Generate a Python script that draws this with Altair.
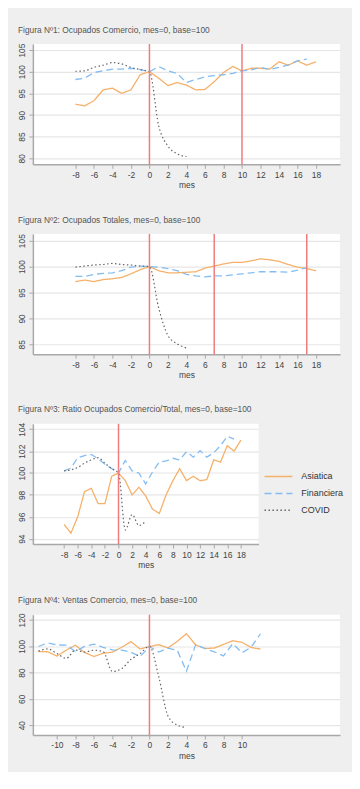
import altair as alt
import pandas as pd

# ---------------- data ----------------
series_names = ["Asiatica", "Financiera", "COVID"]

m_a = [-8, -7, -6, -5, -4, -3, -2, -1, 0, 1, 2, 3, 4, 5, 6, 7, 8, 9, 10, 11, 12, 13, 14, 15, 16, 17, 18]
m_f = [-8, -7, -6, -5, -4, -3, -2, -1, 0, 1, 2, 3, 4, 5, 6, 7, 8, 9, 10, 11, 12, 13, 14, 15, 16, 17]
m_c = [-8, -7, -6, -5, -4, -3, -2, -1, 0, 1, 2, 3, 4]

m4_a = [-12, -11, -10, -9, -8, -7, -6, -5, -4, -3, -2, -1, 0, 1, 2, 3, 4, 5, 6, 7, 8, 9, 10, 11, 12]
m4_f = m4_a
m4_c = [-12, -11, -10, -9, -8, -7, -6, -5, -4, -3, -2, -1, 0, 1, 2, 3, 4]

# Figura 1: Ocupados Comercio
p1_asiatica = [92.5, 92.1, 93.3, 95.8, 96.2, 95.0, 95.8, 99.3, 100.0, 98.5, 96.8, 97.5, 96.9, 95.8,
               95.9, 97.7, 99.8, 101.2, 100.2, 100.8, 100.8, 100.6, 102.3, 101.5, 102.5, 101.5, 102.3]
p1_financiera = [98.2, 98.5, 99.8, 100.2, 100.6, 100.6, 100.8, 100.5, 100.0, 101.2, 100.2, 99.6, 97.5,
                 98.2, 98.8, 99.1, 99.3, 99.6, 100.2, 100.4, 101.0, 100.5, 101.0, 101.6, 102.5, 102.9]
p1_covid = [100.1, 100.2, 101.0, 101.5, 102.1, 101.8, 101.0, 100.5, 100.0, 87.5, 82.8, 81.0, 80.4]
p1_events = [0, 10]

# Figura 2: Ocupados Totales
p2_asiatica = [97.1, 97.4, 97.1, 97.5, 97.65, 97.9, 98.6, 99.4, 100.0, 99.2, 98.8, 98.8, 98.9, 99.0,
               99.7, 100.1, 100.5, 100.8, 100.8, 101.1, 101.5, 101.3, 101.0, 100.4, 99.9, 99.6, 99.2]
p2_financiera = [98.1, 98.1, 98.5, 98.7, 98.8, 99.2, 99.9, 100.1, 100.0, 99.9, 99.6, 99.2, 98.5,
                 98.2, 98.0, 98.2, 98.2, 98.4, 98.6, 98.8, 99.0, 99.0, 99.0, 98.9, 99.3, 99.8]
p2_covid = [99.9, 100.1, 100.3, 100.4, 100.6, 100.4, 100.3, 100.1, 100.0, 92.0, 86.7, 85.1, 84.3]
p2_events = [0, 7, 17]

# Figura 3: Ratio Ocupados Comercio/Total
p3_asiatica = [95.3, 94.5, 96.0, 98.3, 98.6, 97.2, 97.2, 99.7, 100.0, 99.3, 98.0, 98.7, 97.9, 96.7,
               96.3, 98.0, 99.3, 100.4, 99.3, 99.7, 99.3, 99.4, 101.2, 101.0, 102.5, 102.0, 103.0]
p3_financiera = [100.2, 100.45, 101.4, 101.6, 101.7, 101.3, 100.8, 100.4, 100.0, 101.15, 100.2, 100.0,
                 99.0, 100.1, 101.0, 101.1, 101.35, 101.2, 101.95, 101.45, 102.05, 101.45, 101.85,
                 102.5, 103.35, 103.1]
p3_covid = [100.2, 100.3, 100.5, 100.9, 101.2, 101.4, 100.9, 100.4, 100.0, 94.8, 96.2, 95.2, 95.6]
p3_events = [0]

# Figura 4: Ventas Comercio
p4_asiatica = [96.0, 95.8, 92.5, 97.0, 100.8, 95.2, 92.2, 94.7, 95.5, 99.2, 103.5, 97.9, 99.8, 101.2,
               98.7, 103.7, 109.5, 101.0, 98.3, 98.6, 101.4, 104.2, 103.0, 99.0, 97.9]
p4_financiera = [99.8, 102.5, 101.0, 100.8, 96.0, 99.9, 101.6, 99.2, 97.2, 97.0, 95.4, 92.2, 99.8,
                 95.6, 98.5, 97.0, 81.0, 101.3, 98.3, 95.8, 92.7, 102.0, 95.0, 99.3, 109.5]
p4_covid = [96.3, 98.0, 94.5, 90.8, 97.0, 95.6, 97.0, 95.8, 80.8, 83.0, 90.0, 94.5, 100.0, 77.0,
            47.0, 40.0, 38.3]
p4_events = [0]

titles = [
    "Figura Nº1: Ocupados Comercio, mes=0, base=100",
    "Figura Nº2: Ocupados Totales, mes=0, base=100",
    "Figura Nº3: Ratio Ocupados Comercio/Total, mes=0, base=100",
    "Figura Nº4: Ventas Comercio, mes=0, base=100",
]

x_ticks_a = [-8, -6, -4, -2, 0, 2, 4, 6, 8, 10, 12, 14, 16, 18]
x_ticks_b = [-10, -8, -6, -4, -2, 0, 2, 4, 6, 8, 10]
y_ticks = [
    [80, 85, 90, 95, 100, 105],
    [85, 90, 95, 100, 105],
    [94, 96, 98, 100, 102, 104],
    [40, 60, 80, 100, 120],
]
y_domains = [[78.6, 106.4], [83.1, 106.3], [93.5, 104.5], [32.5, 124.0]]
x_domain = [-12.6, 20.6]

FONT = "Liberation Sans"
colors = ["#f5b16a", "#84bdf2", "#666666"]
dashes = [[1, 0], [7, 4], [1.5, 2.5]]


def make_df(ma, va, mf, vf, mc, vc):
    rows = []
    for m, v in zip(ma, va):
        rows.append({"mes": m, "valor": v, "serie": "Asiatica"})
    for m, v in zip(mf, vf):
        rows.append({"mes": m, "valor": v, "serie": "Financiera"})
    for m, v in zip(mc, vc):
        rows.append({"mes": m, "valor": v, "serie": "COVID"})
    return pd.DataFrame(rows)


def panel(df, events, title, xticks, yticks, ydom, width, show_legend):
    xscale = alt.Scale(domain=x_domain, nice=False, zero=False)
    xaxis = alt.Axis(values=xticks, title="mes", grid=False, labelFlush=False,
                     labelOverlap=False, labelExpr="'' + datum.value")
    x = alt.X("mes:Q", scale=xscale, axis=xaxis)
    y = alt.Y("valor:Q", scale=alt.Scale(domain=ydom, nice=False, zero=False),
              axis=alt.Axis(values=yticks, title=None, grid=True, labelAngle=270,
                            labelAlign="center", labelBaseline="bottom",
                            labelOverlap=False, labelExpr="'' + datum.value"))
    if show_legend:
        leg = alt.Legend(title=None, orient="none", legendX=239, legendY=45,
                         symbolType="M-2,0L2,0", symbolSize=196, symbolStrokeWidth=1.5,
                         labelOffset=15, labelFontSize=9, labelFont=FONT, labelColor="#333",
                         rowPadding=4, padding=0)
    else:
        leg = None
    color = alt.Color("serie:N", scale=alt.Scale(domain=series_names, range=colors), legend=leg)
    dash = alt.StrokeDash("serie:N", scale=alt.Scale(domain=series_names, range=dashes), legend=leg)

    base = alt.Chart(df)
    lines_ab = base.transform_filter(alt.datum.serie != "COVID").mark_line(
        strokeWidth=1.3).encode(x=x, y=y, color=color, strokeDash=dash)
    lines_c = base.transform_filter(alt.datum.serie == "COVID").mark_line(
        strokeWidth=1.2, interpolate="monotone").encode(x=x, y=y, color=color, strokeDash=dash)
    rules = alt.Chart(pd.DataFrame({"mes": events})).mark_rule(
        color="#f07c7c", strokeWidth=1.5).encode(x=alt.X("mes:Q", scale=xscale, axis=xaxis))
    return alt.layer(lines_ab, lines_c, rules).properties(
        width=width, height=121,
        title=alt.TitleParams(title, anchor="start", frame="bounds", fontSize=8.4,
                              fontWeight="normal", font=FONT, color="#555", offset=9),
    )


c1 = panel(make_df(m_a, p1_asiatica, m_f, p1_financiera, m_c, p1_covid), p1_events, titles[0],
           x_ticks_a, y_ticks[0], y_domains[0], 309, False)
c2 = panel(make_df(m_a, p2_asiatica, m_f, p2_financiera, m_c, p2_covid), p2_events, titles[1],
           x_ticks_a, y_ticks[1], y_domains[1], 309, False)
c3 = panel(make_df(m_a, p3_asiatica, m_f, p3_financiera, m_c, p3_covid), p3_events, titles[2],
           x_ticks_a, y_ticks[2], y_domains[2], 227, True)
c4 = panel(make_df(m4_a, p4_asiatica, m4_f, p4_financiera, m4_c, p4_covid), p4_events, titles[3],
           x_ticks_b, y_ticks[3], y_domains[3], 309, False)

chart = alt.vconcat(c1, c2, c3, c4, spacing=26).resolve_scale(
    color="independent", strokeDash="independent"
).properties(
    padding={"left": 9, "top": 15, "right": 8, "bottom": 10},
).configure(
    background="#efefef",
).configure_view(
    fill="white", stroke=None,
).configure_axis(
    labelFont=FONT, labelFontSize=8.5, labelColor="#444", labelOverlap=False,
    titleFont=FONT, titleFontSize=8.5, titleColor="#444", titleFontWeight="normal",
    domainColor="#a8a8a8", domainWidth=1.5, tickColor="#a8a8a8", tickSize=4,
    labelPadding=2, titlePadding=2, gridColor="#e6e6e6", gridWidth=1.2,
)

chart.save("out.html", embed_options={"renderer": "svg", "actions": False})
